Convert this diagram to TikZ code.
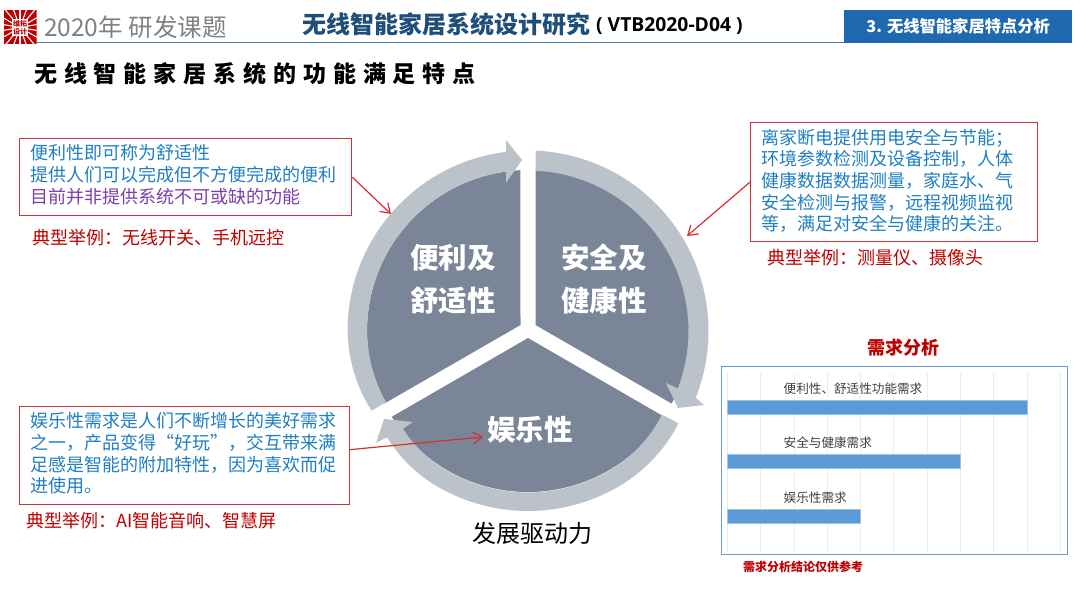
\documentclass[tikz,border=0pt]{standalone}
\usepackage{fontspec}
\setmainfont{Noto Sans CJK SC}
\newfontfamily\latinb{Open Sans}
\newfontfamily\spaced[LetterSpace=30]{Noto Sans CJK SC}
\usetikzlibrary{arrows.meta}
\definecolor{wedge}{HTML}{7A8698}
\definecolor{ringc}{HTML}{BCC2C9}
\definecolor{boxred}{HTML}{C8323C}
\definecolor{arrred}{HTML}{D8302A}
\definecolor{exred}{HTML}{C00000}
\definecolor{bodyblue}{HTML}{1F7FC0}
\definecolor{bodypurple}{HTML}{7A3FA8}
\definecolor{navy}{HTML}{1F4E79}
\definecolor{hdrblue}{HTML}{1F69B0}
\definecolor{ruleblue}{HTML}{4F7FA0}
\definecolor{barblue}{HTML}{5B9BD5}
\definecolor{chartline}{HTML}{6E9BC5}
\definecolor{grid}{HTML}{ECECEC}
\newcommand{\fs}[2]{\fontsize{#1}{#2}\selectfont}
\tikzset{
  redbox/.style={draw=boxred,line width=1.2pt,anchor=north west,inner sep=0pt},
  bodytext/.style={anchor=north west,align=left,inner sep=0pt,text=bodyblue,font=\fs{18}{21.7}},
  extext/.style={anchor=west,inner sep=0pt,text=exred,font=\fs{18}{22}},
  wedgefill/.style={fill=wedge,draw=none},
  ringfill/.style={fill=ringc,draw=none},
  wtext/.style={text=white,font=\fs{28.5}{43}\bfseries,align=center,inner sep=0pt},
  redarrow/.style={draw=arrred,line width=1.2pt,-{Straight Barb[length=9pt,width=12pt,line width=1.2pt]}},
  barfill/.style={fill=barblue,draw=barblue!60!white,line width=.5pt},
  barlabel/.style={anchor=west,inner sep=0pt,text=black!75,font=\fs{12.6}{14}},
}
\begin{document}
\begin{tikzpicture}[x=1pt,y=-1pt]
\useasboundingbox (0,0) rectangle (1080,607);
% logo
\begin{scope}
\clip (3.5,10.5) rectangle (36.5,44.5);
\fill[exred] (3.5,10.5) rectangle (36.5,44.5);
\coordinate (L) at (20,27.5);
\foreach \a in {0,20,...,340}{
  \draw[white,line width=1.1pt] ([shift={(\a+10:8pt)}]L) -- ([shift={(\a+10:30pt)}]L);
}
\end{scope}
\node[fill=white,inner sep=0pt,minimum width=16pt,minimum height=17pt,text=exred,align=center,font=\fs{7}{8}\bfseries] (logo) at (20,27.5) {维拓\\设计};
% header
\draw[ruleblue,line width=1pt] (37,42.5) -- (844,42.5);
\node[anchor=west,inner sep=0pt,text=black!50,font=\fs{24.5}{27}] (hdrleft) at (44,27) {2020年 研发课题};
\node[anchor=west,inner sep=0pt,text=navy,font=\fs{24}{26}\bfseries] (hdrtitle) at (302,24) {无线智能家居系统设计研究};
\node[anchor=west,inner sep=0pt,text=black,font=\latinb\fs{19.3}{22}\bfseries] (hdrcode) at (596,26) {( VTB2020-D04 )};
\node[fill=hdrblue,anchor=north west,inner sep=0pt,minimum width=228pt,minimum height=33pt,text=white,font=\fs{16.3}{18}\bfseries] (hdrbox) at (844,10) {3. 无线智能家居特点分析};
\node[anchor=west,inner sep=0pt,text=black,font=\spaced\fs{23}{26}\bfseries] (heading) at (34,74) {无线智能家居系统的功能满足特点};
% wheel
\coordinate (C) at (528,331);
\fill[wedgefill] (535.5,325) -- ([shift={(87.3:161pt)}]C) arc[start angle=87.3,end angle=-26.8,radius=161pt] -- cycle;
\fill[wedgefill] (520.5,325) -- ([shift={(92.7:161pt)}]C) arc[start angle=92.7,end angle=206.8,radius=161pt] -- cycle;
\fill[wedgefill] (528,338) -- ([shift={(-32.2:161pt)}]C) arc[start angle=-32.2,end angle=-147.8,radius=161pt] -- cycle;
% ring segments
\fill[ringfill] plot[domain=207:175,samples=14] ({528+(175.5+5*(1-((\x-175)/32)^2))*cos(\x)},{331-(175.5+5*(1-((\x-175)/32)^2))*sin(\x)})
  arc[start angle=175,end angle=97,radius=180.5pt]
  -- (506,140) -- (522,160) -- (506,183) -- ([shift={(97.8:161pt)}]C)
  arc[start angle=97.8,end angle=175,radius=161pt]
  -- plot[domain=175:206.6,samples=14] ({528+(158.8+2.2*(1-((\x-175)/31.6)^2))*cos(\x)},{331-(158.8+2.2*(1-((\x-175)/31.6)^2))*sin(\x)})
  -- cycle;
\fill[ringfill] ([shift={(87.6:180.5pt)}]C) arc[start angle=87.6,end angle=-21.7,radius=180.5pt]
  -- (704,405) -- (678,408) -- (666,383) -- ([shift={(-21:160.5pt)}]C)
  arc[start angle=-21,end angle=87.3,radius=160.5pt] -- cycle;
\fill[ringfill] plot[domain=-31.5:-60,samples=14] ({528+(176.5+3.5*(1-((\x+60)/28.5)^2))*cos(\x)},{331-(176.5+3.5*(1-((\x+60)/28.5)^2))*sin(\x)})
  arc[start angle=-60,end angle=-120,radius=180pt]
  -- plot[domain=-120:-143,samples=14] ({528+(176.5+3.5*(1-((\x+120)/23)^2))*cos(\x)},{331-(176.5+3.5*(1-((\x+120)/23)^2))*sin(\x)})
  -- (376,443) -- (384,419) -- (413,422)
  -- plot[domain=-142:-120,samples=14] ({528+(158.8+2.7*(1-((\x+120)/22)^2))*cos(\x)},{331-(158.8+2.7*(1-((\x+120)/22)^2))*sin(\x)})
  arc[start angle=-120,end angle=-60,radius=161.5pt]
  -- plot[domain=-60:-32,samples=14] ({528+(158+3.5*(1-((\x+60)/28)^2))*cos(\x)},{331-(158+3.5*(1-((\x+60)/28)^2))*sin(\x)})
  -- cycle;
\node[wtext] (w1) at (453,279.5) {便利及\\舒适性};
\node[wtext] (w2) at (604,279.5) {安全及\\健康性};
\node[wtext] (w3) at (530,430) {娱乐性};
\node[anchor=center,inner sep=0pt,text=black,font=\fs{24}{26}] (drive) at (532.5,533) {发展驱动力};
% boxes
\node[redbox,minimum width=332pt,minimum height=77pt] (b1) at (19,138) {};
\node[bodytext] (t1) at (30,144.5) {便利性即可称为舒适性\\提供人们可以完成但不方便完成的便利\\\textcolor{bodypurple}{目前并非提供系统不可或缺的功能}};
\node[extext] (e1) at (32,238) {典型举例：无线开关、手机远控};
\node[redbox,minimum width=287pt,minimum height=119pt] (b2) at (750,122) {};
\node[bodytext] (t2) at (761,128.5) {离家断电提供用电安全与节能；\\环境参数检测及设备控制，人体\\健康数据数据测量，家庭水、气\\安全检测与报警，远程视频监视\\等，满足对安全与健康的关注。};
\node[extext] (e2) at (767,258) {典型举例：测量仪、摄像头};
\node[redbox,minimum width=330pt,minimum height=98pt] (b3) at (19,406) {};
\node[bodytext] (t3) at (30,412.5) {娱乐性需求是人们不断增长的美好需求\\之一，产品变得“好玩”，交互带来满\\足感是智能的附加特性，因为喜欢而促\\进使用。};
\node[extext] (e3) at (26,521) {典型举例：AI智能音响、智慧屏};
% arrows
\coordinate (a1) at (391,214);
\coordinate (a2) at (687,236);
\coordinate (a3) at (483,437);
\draw[redarrow] (b1.east) -- (a1);
\draw[redarrow] (b2.west) -- (a2);
\draw[redarrow] ([yshift=6pt]b3.east) -- (a3);
% chart
\node[inner sep=0pt,text=exred,font=\fs{18}{20}\bfseries] (ctitle) at (903,348) {需求分析};
\node[draw=chartline,line width=1pt,anchor=north west,inner sep=0pt,minimum width=346pt,minimum height=188pt] (cbox) at (721,366) {};
\foreach \i in {0,...,10}{
  \draw[grid,line width=.8pt] (727.3+33.3*\i,373) -- (727.3+33.3*\i,552);
}
\fill[barfill] (727.3,400) rectangle (1027,414);
\fill[barfill] (727.3,454.5) rectangle (960,468.5);
\fill[barfill] (727.3,509) rectangle (860.5,523);
\node[barlabel] (l1) at (783.5,389) {便利性、舒适性功能需求};
\node[barlabel] (l2) at (783.5,443) {安全与健康需求};
\node[barlabel] (l3) at (783.5,498) {娱乐性需求};
\node[anchor=west,inner sep=0pt,text=exred,font=\fs{12}{14}\bfseries] (cnote) at (743,567) {需求分析结论仅供参考};
\end{tikzpicture}
\end{document}
